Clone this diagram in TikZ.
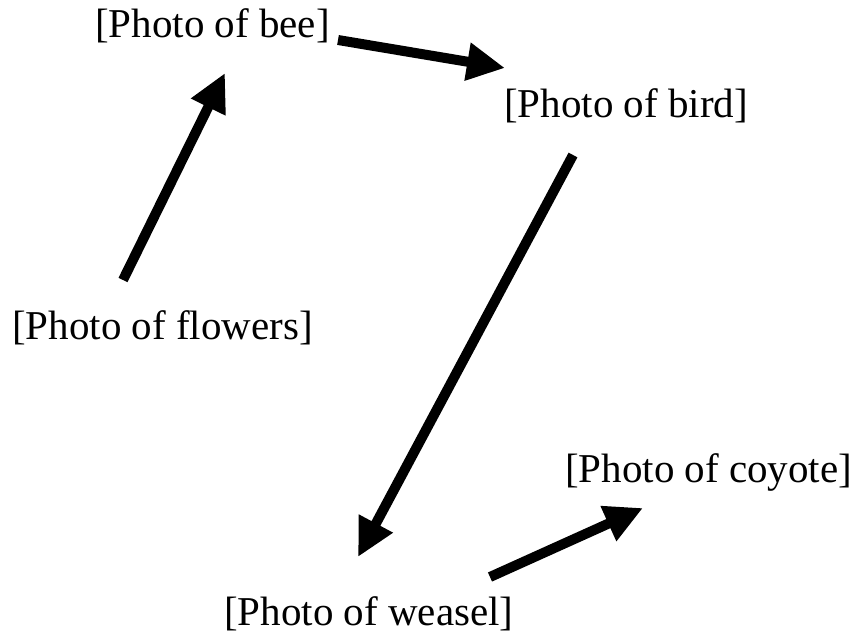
\documentclass[tikz,border=0pt]{standalone}
\usepackage{fontspec}
\setmainfont{Liberation Serif}
\usetikzlibrary{arrows.meta}
\begin{document}
\begin{tikzpicture}
[x=1pt,y=-1pt,
  labeldecorate/.style={inner sep=0pt,anchor=base west,font=\fontsize{41}{49}\selectfont},%
  arrowdecorate/.style={-{Triangle[length=38pt,width=36pt]},line width=10pt}]
\useasboundingbox (0,0) rectangle (860,636);
%% nodes or photos
\foreach \nodename/\x/\y in {flowers/12/340, bee/95/38, bird/504/118,
  weasel/224/625, coyote/565/482}
{
  \node (\nodename) at (\x,\y) [labeldecorate] {[Photo of \nodename]};
}
%% edges or arrows
\path
\foreach \startnode/\startshift/\endnode/\endshift in {flowers/{111,-60}/bee/{130,35},
  bee/{243,2}/bird/{1,-50}, bird/{69,37}/weasel/{134,-68}, weasel/{266,-48}/coyote/{78,26}} {
  ([shift={(\startshift)}]\startnode.base west) edge[arrowdecorate]
    ([shift={(\endshift)}]\endnode.base west)
};
\end{tikzpicture}
\end{document}
